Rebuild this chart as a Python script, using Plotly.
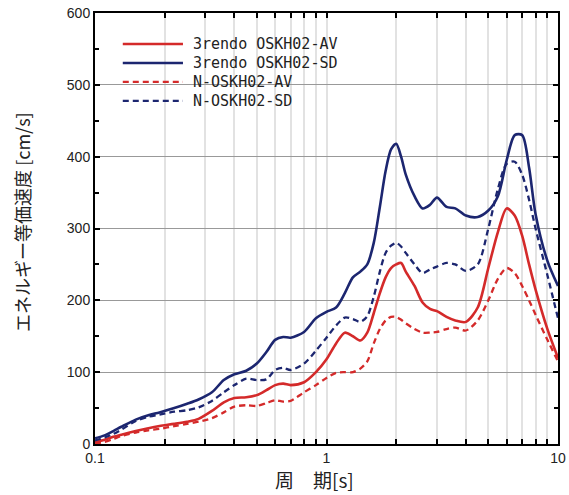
import plotly.graph_objects as go

# Periods [s]
period = [0.1, 0.11, 0.12, 0.13, 0.15, 0.17, 0.19, 0.22, 0.25, 0.28, 0.32, 0.36, 0.4, 0.45,
          0.5, 0.55, 0.6, 0.65, 0.7, 0.8, 0.9, 1.0, 1.1, 1.2, 1.3, 1.4, 1.5, 1.6, 1.7, 1.8,
          1.9, 2.0, 2.1, 2.2, 2.4, 2.6, 2.8, 3.0, 3.3, 3.6, 4.0, 4.5, 5.0, 5.5, 6.0, 6.5,
          7.0, 7.5, 8.0, 9.0, 10.0]

rendo_av = [3, 6, 10, 13, 18, 22, 25, 28, 31, 35, 46, 58, 64, 65,
            68, 75, 82, 84, 82, 86, 100, 118, 140, 155, 150, 144, 155, 182, 210, 232,
            245, 250, 252, 240, 220, 197, 188, 185, 177, 172, 170, 190, 245, 295, 328, 318,
            290, 250, 215, 160, 120]

rendo_sd = [8, 12, 18, 24, 34, 40, 44, 50, 56, 62, 72, 89, 97, 102,
            112, 128, 145, 149, 148, 156, 175, 184, 190, 210, 232, 240, 250, 280, 330, 380,
            410, 418, 400, 375, 345, 328, 333, 343, 330, 328, 318, 316, 325, 345, 395, 430,
            430, 385, 320, 255, 220]

n_av = [1, 3, 7, 11, 16, 19, 21, 25, 28, 31, 36, 44, 52, 54,
        53, 57, 61, 59, 60, 72, 82, 92, 99, 100, 100, 105, 115, 140, 160, 172,
        177, 177, 173, 168, 160, 155, 155, 156, 160, 162, 158, 172, 200, 230, 245, 238,
        220, 200, 180, 145, 115]

n_sd = [5, 9, 14, 20, 32, 38, 41, 45, 47, 51, 60, 72, 82, 91,
        89, 90, 103, 106, 103, 112, 130, 148, 165, 176, 174, 170, 178, 205, 240, 266,
        276, 280, 275, 266, 250, 238, 243, 247, 252, 250, 241, 250, 300, 355, 390, 393,
        375, 340, 300, 235, 175]

series_names = ["3rendo OSKH02-AV", "3rendo OSKH02-SD", "N-OSKH02-AV", "N-OSKH02-SD"]

x_tickvals = [0.1, 0.2, 0.3, 0.4, 0.5, 0.6, 0.7, 0.8, 0.9, 1, 2, 3, 4, 5, 6, 7, 8, 9, 10]
x_ticktext = ["0.1", "", "", "", "", "", "", "", "", "1", "", "", "", "", "", "", "", "", "10"]

x_title = "周　期[s]"
y_title = "エネルギー等価速度 [cm/s]"

RED = "#d42a2a"
NAVY = "#1c2670"
styles = [
    dict(color=RED, width=2.6, dash="solid"),
    dict(color=NAVY, width=2.6, dash="solid"),
    dict(color=RED, width=2.3, dash="6px,4px"),
    dict(color=NAVY, width=2.3, dash="6px,4px"),
]

fig = go.Figure()
for name, ys, st in zip(series_names, [rendo_av, rendo_sd, n_av, n_sd], styles):
    fig.add_trace(go.Scatter(x=period, y=ys, mode="lines", name=name,
                             line=dict(color=st["color"], width=st["width"], dash=st["dash"],
                                       shape="spline", smoothing=0.8),
                             showlegend=False, hoverinfo="skip"))

# Manual legend (paper coords)
leg_y = [0.928, 0.884, 0.840, 0.796]
for name, st, yy in zip(series_names, styles, leg_y):
    fig.add_shape(type="line", xref="paper", yref="paper", x0=0.06, x1=0.19, y0=yy, y1=yy,
                  line=dict(color=st["color"], width=st["width"], dash=st["dash"]))
    fig.add_annotation(xref="paper", yref="paper", x=0.207, y=yy, text=name, showarrow=False,
                       xanchor="left", yanchor="middle",
                       font=dict(family="DejaVu Sans Mono", size=15, color="#222"))

# Axis titles as annotations for precise placement
fig.add_annotation(xref="paper", yref="paper", x=0.475, y=-0.083, text=x_title, showarrow=False,
                   xanchor="center", yanchor="middle",
                   font=dict(family="Noto Sans CJK JP", size=19, color="#222"))
fig.add_annotation(xref="paper", yref="paper", x=-0.158, y=0.515, text=y_title, showarrow=False,
                   xanchor="center", yanchor="middle", textangle=-90,
                   font=dict(family="Noto Sans CJK JP", size=18, color="#222"))

fig.update_layout(
    width=569, height=495, autosize=False,
    margin=dict(l=95, r=11, t=13, b=51, autoexpand=False),
    paper_bgcolor="white", plot_bgcolor="white",
    font=dict(family="Liberation Sans", size=14, color="#222"),
)
fig.update_xaxes(
    type="log", range=[-1, 1], automargin=False,
    tickvals=x_tickvals, ticktext=x_ticktext,
    ticks="inside", ticklen=5, tickcolor="black", tickwidth=1.5,
    ticklabelstandoff=0,
    showgrid=True, gridcolor="#e2e2e2", gridwidth=1.5,
    showline=True, linecolor="black", linewidth=2, mirror="ticks",
    zeroline=False,
)
fig.update_yaxes(
    range=[0, 600], dtick=100, automargin=False,
    ticks="inside", ticklen=5, tickcolor="black", tickwidth=1.5,
    minor=dict(dtick=50, ticks="inside", ticklen=4, tickcolor="black", showgrid=False),
    showgrid=True, gridcolor="#999999", gridwidth=1,
    showline=True, linecolor="black", linewidth=2, mirror="ticks",
    zeroline=False,
)

fig.write_html("out.html", config={"displayModeBar": False, "responsive": False},
               post_script="document.body.style.margin='0';")
